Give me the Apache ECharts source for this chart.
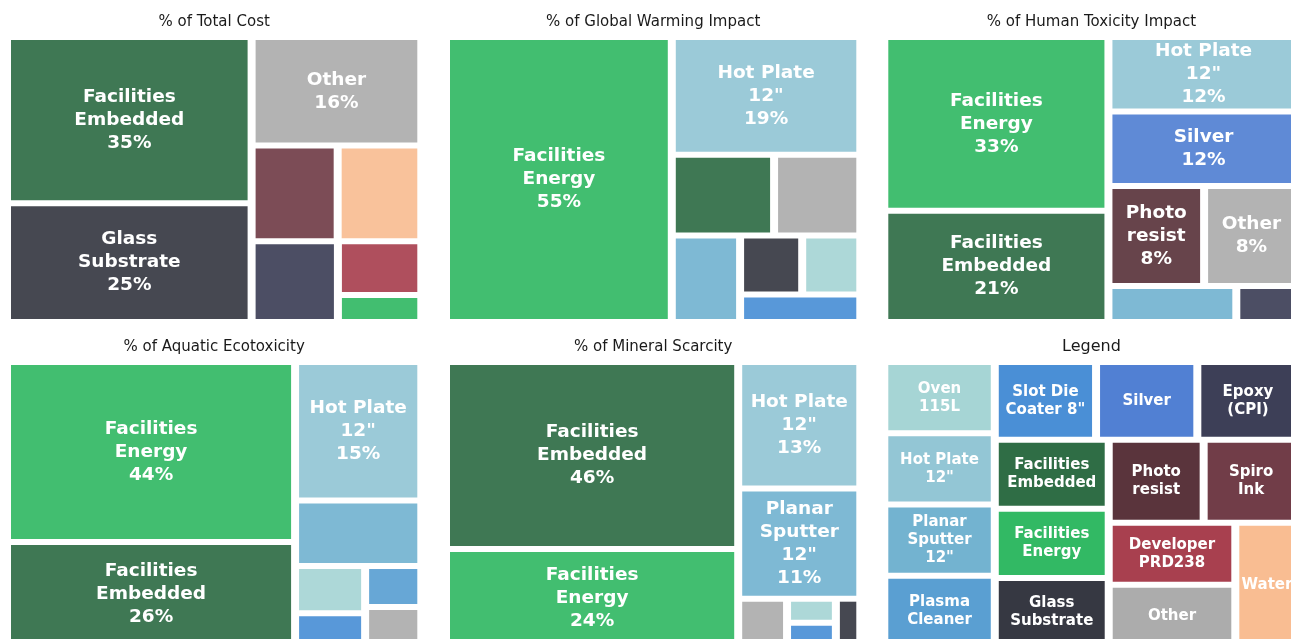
<!DOCTYPE html>
<html>
<head>
<meta charset="utf-8">
<script src="https://cdn.jsdelivr.net/npm/echarts@6/dist/echarts.min.js"></script>
<style>
  html, body { margin: 0; padding: 0; background: #fff; }
  #chart { width: 1291px; height: 639px; }
</style>
</head>
<body>
<div id="chart"></div>
<script>
// categories in legend order, with their label text and colour
const categories = ['Oven 115L', 'Hot Plate 12"', 'Planar Sputter 12"', 'Plasma Cleaner', 'Slot Die Coater 8"',
  'Silver', 'Epoxy (CPI)', 'Facilities Embedded', 'Facilities Energy', 'Glass Substrate',
  'Photo resist', 'Spiro Ink', 'Developer PRD238', 'Other', 'Water']
const categoryLabels = ['Oven\n115L', 'Hot Plate\n12"', 'Planar\nSputter\n12"', 'Plasma\nCleaner', 'Slot Die\nCoater 8"',
  'Silver', 'Epoxy\n(CPI)', 'Facilities\nEmbedded', 'Facilities\nEnergy', 'Glass\nSubstrate',
  'Photo\nresist', 'Spiro\nInk', 'Developer\nPRD238', 'Other', 'Water']
const categoryColors = ['#a6d5d5', '#93c6d5', '#73b3d0', '#5a9fd2', '#4a8fd6',
  '#5180d3', '#3d3f57', '#2f6d45', '#32b964', '#363842',
  '#5a343c', '#713d48', '#a8404f', '#acacac', '#f9bd92']

// % share per impact category (sorted, as fed to squarify)
const costItems = ['Facilities Embedded', 'Glass Substrate', 'Other', 'Spiro Ink', 'Water', 'Epoxy (CPI)', 'Developer PRD238', 'Facilities Energy']
const costValues = [34.5, 24.6, 15.6, 7.0, 6.8, 5.9, 3.8, 1.9]

const warmingItems = ['Facilities Energy', 'Hot Plate 12"', 'Facilities Embedded', 'Other', 'Planar Sputter 12"', 'Glass Substrate', 'Oven 115L', 'Slot Die Coater 8"']
const warmingValues = [54.5, 18.8, 7.0, 5.9, 5.0, 3.1, 2.9, 2.8]

const toxicityItems = ['Facilities Energy', 'Facilities Embedded', 'Hot Plate 12"', 'Silver', 'Photo resist', 'Other', 'Planar Sputter 12"', 'Epoxy (CPI)']
const toxicityValues = [33.0, 21.1, 12.0, 12.0, 8.1, 8.0, 3.9, 1.9]

const aquaticItems = ['Facilities Energy', 'Facilities Embedded', 'Hot Plate 12"', 'Planar Sputter 12"', 'Oven 115L', 'Slot Die Coater 8"', 'Plasma Cleaner', 'Other']
const aquaticValues = [43.9, 25.6, 14.8, 7.0, 2.8, 2.0, 1.95, 1.9]

const mineralItems = ['Facilities Embedded', 'Facilities Energy', 'Hot Plate 12"', 'Planar Sputter 12"', 'Other', 'Oven 115L', 'Slot Die Coater 8"', 'Glass Substrate']
const mineralValues = [46.3, 24.3, 13.1, 11.4, 2.0, 1.0, 1.0, 1.0]

// legend: every category with equal weight
const legendItems = categories
const legendValues = [1, 1, 1, 1, 1, 1, 1, 1, 1, 1, 1, 1, 1, 1, 1]

const panels = [
  { title: '% of Total Cost', items: costItems, values: costValues },
  { title: '% of Global Warming Impact', items: warmingItems, values: warmingValues },
  { title: '% of Human Toxicity Impact', items: toxicityItems, values: toxicityValues },
  { title: '% of Aquatic Ecotoxicity', items: aquaticItems, values: aquaticValues },
  { title: '% of Mineral Scarcity', items: mineralItems, values: mineralValues },
  { title: 'Legend', items: legendItems, values: legendValues, legend: true }
]

// squarify (same algorithm as the python package, on a 100 x 100 square)
const sum = arr => arr.reduce((a, b) => a + b, 0)

function normalizeSizes(sizes, dx, dy) {
  const total = sum(sizes)
  return sizes.map(s => s * dx * dy / total)
}

function layoutRow(sizes, x, y, dx, dy) {
  const width = sum(sizes) / dy
  return sizes.map(s => {
    const r = { x: x, y: y, dx: width, dy: s / width }
    y += s / width
    return r
  })
}

function layoutCol(sizes, x, y, dx, dy) {
  const height = sum(sizes) / dx
  return sizes.map(s => {
    const r = { x: x, y: y, dx: s / height, dy: height }
    x += s / height
    return r
  })
}

function layout(sizes, x, y, dx, dy) {
  return dx >= dy ? layoutRow(sizes, x, y, dx, dy) : layoutCol(sizes, x, y, dx, dy)
}

function leftover(sizes, x, y, dx, dy) {
  if (dx >= dy) {
    const width = sum(sizes) / dy
    return [x + width, y, dx - width, dy]
  }
  const height = sum(sizes) / dx
  return [x, y + height, dx, dy - height]
}

function worstRatio(sizes, x, y, dx, dy) {
  return Math.max(...layout(sizes, x, y, dx, dy).map(r => Math.max(r.dx / r.dy, r.dy / r.dx)))
}

function squarify(sizes, x, y, dx, dy) {
  if (sizes.length === 0) return []
  if (sizes.length === 1) return layout(sizes, x, y, dx, dy)
  let i = 1
  while (i < sizes.length && worstRatio(sizes.slice(0, i), x, y, dx, dy) >= worstRatio(sizes.slice(0, i + 1), x, y, dx, dy)) {
    i += 1
  }
  const current = sizes.slice(0, i)
  const [lx, ly, ldx, ldy] = leftover(current, x, y, dx, dy)
  return layout(current, x, y, dx, dy).concat(squarify(sizes.slice(i), lx, ly, ldx, ldy))
}

const gridLefts = [7, 446, 884.3]
const gridTops = [37, 362]
const gridWidth = 414.3
const gridHeight = 285
const insetX = 4
const insetY = 3

const grids = []
const xAxes = []
const yAxes = []
const series = []
const titles = []

panels.forEach((p, i) => {
  const left = gridLefts[i % 3]
  const top = gridTops[Math.floor(i / 3)]
  grids.push({ left: left, top: top, width: gridWidth, height: gridHeight, containLabel: false, outerBoundsMode: 'none' })
  xAxes.push({ gridIndex: i, type: 'value', min: 0, max: 100, show: false })
  yAxes.push({ gridIndex: i, type: 'value', min: 0, max: 100, inverse: true, show: false })

  const rects = squarify(normalizeSizes(p.values, 100, 100), 0, 0, 100, 100)

  series.push({
    type: 'custom',
    xAxisIndex: i,
    yAxisIndex: i,
    clip: false,
    silent: true,
    data: rects.map(r => [r.x, r.y, r.dx, r.dy]),
    renderItem: (params, api) => {
      const p0 = api.coord([api.value(0), api.value(1)])
      const p1 = api.coord([api.value(0) + api.value(2), api.value(1) + api.value(3)])
      const x = p0[0] + insetX
      const y = p0[1] + insetY
      const w = p1[0] - p0[0] - 2 * insetX
      const h = p1[1] - p0[1] - 2 * insetY
      const idx = categories.indexOf(p.items[params.dataIndex])
      const value = p.values[params.dataIndex]
      const children = [{
        type: 'rect',
        shape: { x: x, y: y, width: w, height: h },
        style: { fill: categoryColors[idx], opacity: p.legend ? 1 : 0.92 }
      }]
      let text = null
      if (p.legend) {
        text = categoryLabels[idx]
      } else if (value >= 7.5) {
        text = categoryLabels[idx] + '\n' + Math.round(value) + '%'
      }
      if (text) {
        children.push({
          type: 'text',
          style: {
            text: text,
            x: x + w / 2,
            y: y + h / 2,
            align: 'center',
            verticalAlign: 'middle',
            textAlign: 'center',
            textVerticalAlign: 'middle',
            font: p.legend ? "bold 15px 'DejaVu Sans'" : "bold 18.5px 'DejaVu Sans'",
            lineHeight: p.legend ? 18 : 23,
            fill: '#ffffff'
          }
        })
      }
      return { type: 'group', children: children }
    }
  })

  titles.push({
    type: 'text',
    x: left + gridWidth / 2,
    y: top - 15,
    style: {
      text: p.title,
      align: 'center',
      verticalAlign: 'middle',
      textAlign: 'center',
      textVerticalAlign: 'middle',
      font: p.legend ? "16px 'DejaVu Sans'" : "15px 'DejaVu Sans'",
      fill: '#1a1a1a'
    }
  })
})

const chart = echarts.init(document.getElementById('chart'))
chart.setOption({
  backgroundColor: '#ffffff',
  animation: false,
  grid: grids,
  xAxis: xAxes,
  yAxis: yAxes,
  series: series,
  graphic: titles
})
</script>
</body>
</html>
